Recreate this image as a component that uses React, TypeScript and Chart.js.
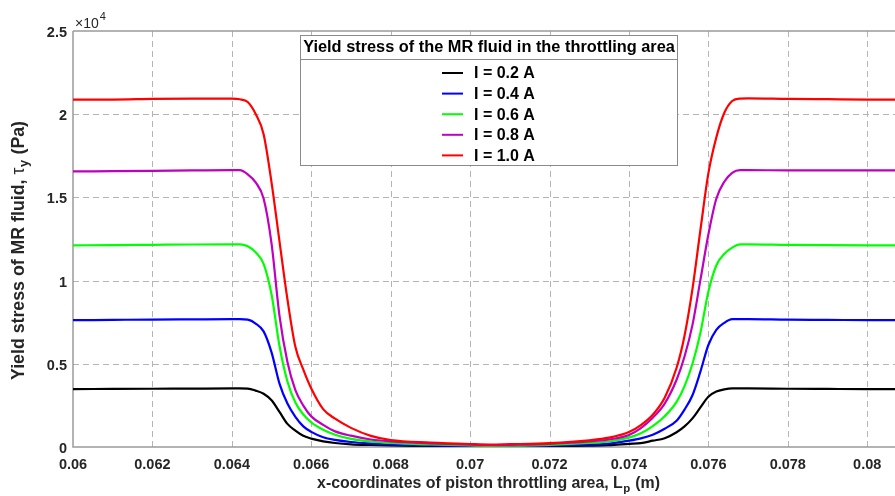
import React, { useEffect, useRef } from "react";
import { Chart, registerables } from "chart.js";

Chart.register(...registerables);

// ---- data ----
const xValues = [
  0.060, 0.061, 0.062, 0.063, 0.064, 0.0642, 0.0644, 0.0646, 0.0648, 0.065,
  0.0652, 0.0654, 0.0656, 0.0658, 0.066, 0.0663, 0.0666, 0.067, 0.0675, 0.068,
  0.069, 0.070, 0.0705, 0.071, 0.072, 0.073, 0.0735, 0.074, 0.0743, 0.0746,
  0.0749, 0.0752, 0.0754, 0.0756, 0.0758, 0.076, 0.0762, 0.0764, 0.0766, 0.0768,
  0.077, 0.078, 0.079, 0.080, 0.081,
];

const seriesLabels = ["I = 0.2 A", "I = 0.4 A", "I = 0.6 A", "I = 0.8 A", "I = 1.0 A"];

const current02 = [
  3480, 3490, 3500, 3510, 3520, 3520, 3510, 3390, 3200, 2810,
  2110, 1390, 980, 670, 500, 340, 240, 160, 120, 90,
  50, 30, 20, 25, 50, 80, 110, 190, 230, 380,
  530, 890, 1240, 1720, 2380, 3020, 3330, 3460, 3520, 3520,
  3520, 3500, 3490, 3480, 3480,
];
const current04 = [
  7620, 7640, 7660, 7670, 7680, 7680, 7650, 7420, 6950, 5690,
  3810, 2610, 1810, 1240, 910, 590, 430, 300, 210, 150,
  90, 50, 40, 50, 80, 150, 210, 380, 520, 740,
  1100, 1580, 2250, 3110, 4530, 6130, 7040, 7460, 7680, 7680,
  7680, 7650, 7640, 7620, 7620,
];
const current06 = [
  12120, 12130, 12150, 12170, 12180, 12180, 12060, 11700, 11010, 9160,
  6070, 3940, 2670, 1950, 1480, 1040, 740, 490, 330, 240,
  150, 90, 70, 80, 130, 240, 330, 560, 820, 1250,
  1850, 2710, 3660, 5000, 6870, 9330, 10910, 11600, 11980, 12180,
  12180, 12150, 12130, 12120, 12120,
];
const current08 = [
  16560, 16580, 16600, 16620, 16640, 16640, 16390, 15900, 14930, 12220,
  7880, 5110, 3420, 2490, 1840, 1330, 940, 680, 450, 340,
  220, 140, 110, 130, 190, 330, 450, 720, 1140, 1760,
  2610, 4040, 5440, 7340, 10040, 12770, 14920, 15940, 16480, 16640,
  16640, 16620, 16620, 16620, 16620,
];
const current10 = [
  20880, 20880, 20920, 20940, 20940, 20900, 20730, 20010, 18800, 15890,
  12360, 8880, 6020, 4650, 3520, 2280, 1700, 1150, 670, 420,
  270, 180, 150, 170, 230, 400, 560, 900, 1320, 1940,
  2960, 4760, 6690, 9500, 13040, 16440, 18600, 20070, 20790, 20940,
  20950, 20920, 20900, 20880, 20880,
];

const seriesValues = [current02, current04, current06, current08, current10];
const seriesColors = ["#000000", "#0000ff", "#00ff00", "#bf00bf", "#ff0000"];

const xMin = 0.06;
const xMax = 0.0807;
const xStep = 0.002;
const yMin = 0;
const yMax = 25000;
const yStep = 5000;
const yExponent = 4;

const legendTitle = "Yield stress of the MR fluid in the throttling area";
const xTitleMain = "x-coordinates of piston throttling area, L";
const xTitleSub = "p";
const xTitleEnd = " (m)";
const yTitleMain = "Yield stress of MR fluid, ";
const yTitleSym = "\u03C4";
const yTitleSub = "y";
const yTitleEnd = " (Pa)";

const FONT = "'Liberation Sans', Arial, sans-serif";
const TEXT = "#262626";

function fitSize(ctx: CanvasRenderingContext2D, text: string, target: number, weight = "bold") {
  ctx.font = `${weight} 100px ${FONT}`;
  const w = ctx.measureText(text).width;
  return (target / w) * 100;
}

const decorPlugin = {
  id: "decor",
  beforeDatasetsDraw(chart: any) {
    const { ctx, chartArea } = chart;
    const xs = chart.scales.x;
    const ys = chart.scales.y;
    ctx.save();
    ctx.strokeStyle = "#b4b4b4";
    ctx.lineWidth = 1;
    ctx.setLineDash([6, 4]);
    xs.ticks.forEach((t: any) => {
      const px = Math.round(xs.getPixelForValue(t.value)) + 0.5;
      if (px <= chartArea.left + 2) return;
      ctx.beginPath();
      ctx.moveTo(px, chartArea.top);
      ctx.lineTo(px, chartArea.bottom);
      ctx.stroke();
    });
    ys.ticks.forEach((t: any) => {
      const py = Math.round(ys.getPixelForValue(t.value)) + 0.5;
      if (py >= chartArea.bottom - 2 || py <= chartArea.top + 2) return;
      ctx.beginPath();
      ctx.moveTo(chartArea.left, py);
      ctx.lineTo(chartArea.right, py);
      ctx.stroke();
    });
    ctx.setLineDash([]);
    ctx.strokeStyle = "#9a9a9a";
    ctx.lineWidth = 1.5;
    ctx.beginPath();
    ctx.moveTo(chartArea.left, chartArea.top);
    ctx.lineTo(chartArea.right, chartArea.top);
    ctx.moveTo(chartArea.left, chartArea.top);
    ctx.lineTo(chartArea.left, chartArea.bottom);
    ctx.lineTo(chartArea.right, chartArea.bottom);
    ctx.stroke();
    ctx.restore();
  },
  afterDatasetsDraw(chart: any) {
    const { ctx, chartArea } = chart;
    ctx.save();
    // legend box
    const bx = 300.5, by = 35.5, bw = 377, bh = 130;
    ctx.fillStyle = "#ffffff";
    ctx.fillRect(bx, by, bw, bh);
    ctx.strokeStyle = "#8a8a8a";
    ctx.lineWidth = 1;
    ctx.strokeRect(bx, by, bw, bh);
    ctx.beginPath();
    ctx.moveTo(bx, 59.5);
    ctx.lineTo(bx + bw, 59.5);
    ctx.stroke();
    const ts = fitSize(ctx, legendTitle, 372);
    ctx.font = `bold ${ts}px ${FONT}`;
    ctx.fillStyle = "#000000";
    ctx.textAlign = "center";
    ctx.textBaseline = "middle";
    ctx.fillText(legendTitle, bx + bw / 2, 47.5);
    ctx.textAlign = "left";
    ctx.font = `bold 16px ${FONT}`;
    seriesLabels.forEach((lab, i) => {
      const yy = 73 + i * 20.6;
      ctx.strokeStyle = seriesColors[i];
      ctx.lineWidth = 2;
      ctx.beginPath();
      ctx.moveTo(442, yy);
      ctx.lineTo(463, yy);
      ctx.stroke();
      ctx.fillStyle = "#000000";
      ctx.fillText(lab, 474, yy + 1);
    });

    // exponent label
    ctx.fillStyle = TEXT;
    ctx.textAlign = "left";
    ctx.textBaseline = "alphabetic";
    ctx.font = `14px ${FONT}`;
    ctx.fillText("\u00D710", chartArea.left + 2, 27.5);
    const w10 = ctx.measureText("\u00D710").width;
    ctx.font = `11px ${FONT}`;
    ctx.fillText(String(yExponent), chartArea.left + 2 + w10 + 1, 20);

    // x title
    const xs = fitSize(ctx, xTitleMain + xTitleSub + xTitleEnd, 345);
    const subS = xs * 0.72;
    ctx.font = `bold ${xs}px ${FONT}`;
    const w1 = ctx.measureText(xTitleMain).width;
    const w3 = ctx.measureText(xTitleEnd).width;
    ctx.font = `bold ${subS}px ${FONT}`;
    const w2 = ctx.measureText(xTitleSub).width;
    const x0 = 488 - (w1 + w2 + w3) / 2;
    const yb = 488;
    ctx.font = `bold ${xs}px ${FONT}`;
    ctx.fillText(xTitleMain, x0, yb);
    ctx.font = `bold ${subS}px ${FONT}`;
    ctx.fillText(xTitleSub, x0 + w1 + 0.5, yb + 4);
    ctx.font = `bold ${xs}px ${FONT}`;
    ctx.fillText(xTitleEnd, x0 + w1 + w2 + 1, yb);

    // y title
    const ysz = fitSize(ctx, yTitleMain + yTitleSym + yTitleSub + yTitleEnd, 262);
    const ysub = ysz * 0.72;
    ctx.translate(24, 251);
    ctx.rotate(-Math.PI / 2);
    ctx.font = `bold ${ysz}px ${FONT}`;
    const a1 = ctx.measureText(yTitleMain).width;
    ctx.font = `${ysz}px ${FONT}`;
    const a2 = ctx.measureText(yTitleSym).width;
    ctx.font = `bold ${ysub}px ${FONT}`;
    const a3 = ctx.measureText(yTitleSub).width;
    ctx.font = `bold ${ysz}px ${FONT}`;
    const a4 = ctx.measureText(yTitleEnd).width;
    let s = -(a1 + a2 + a3 + a4) / 2;
    ctx.fillText(yTitleMain, s, 0);
    s += a1;
    ctx.font = `${ysz}px ${FONT}`;
    ctx.fillText(yTitleSym, s, 0);
    s += a2;
    ctx.font = `bold ${ysub}px ${FONT}`;
    ctx.fillText(yTitleSub, s + 0.5, 4);
    s += a3 + 1;
    ctx.font = `bold ${ysz}px ${FONT}`;
    ctx.fillText(yTitleEnd, s, 0);
    ctx.restore();
  },
};

export default function App() {
  const ref = useRef<HTMLCanvasElement>(null);
  useEffect(() => {
    document.body.style.margin = "0";
    const canvas = ref.current!;
    const chart = new Chart(canvas, {
      type: "line",
      data: {
        datasets: seriesValues.map((vals, i) => ({
          label: seriesLabels[i],
          data: xValues.map((x, j) => ({ x, y: vals[j] })),
          borderColor: seriesColors[i],
          backgroundColor: seriesColors[i],
          borderWidth: 2.2,
          pointRadius: 0,
          cubicInterpolationMode: "monotone" as const,
          fill: false,
          order: 5 - i,
        })),
      },
      options: {
        animation: false,
        responsive: false,
        devicePixelRatio: 1,
        layout: { padding: { top: 31, left: 0, right: 0, bottom: 0 } },
        plugins: {
          legend: { display: false },
          tooltip: { enabled: false },
          title: { display: false },
        },
        scales: {
          x: {
            type: "linear",
            min: xMin,
            max: xMax,
            grid: { display: false, drawTicks: false },
            border: { display: false },
            ticks: {
              stepSize: xStep,
              includeBounds: false,
              maxRotation: 0,
              autoSkip: false,
              padding: 9,
              color: TEXT,
              font: { family: FONT, size: 14.5, weight: "bold" },
              callback: (v: any) => String(Number(Number(v).toFixed(4))),
            },
            afterFit: (scale: any) => {
              scale.height = 49;
            },
          },
          y: {
            type: "linear",
            min: yMin,
            max: yMax,
            grid: { display: false, drawTicks: false },
            border: { display: false },
            ticks: {
              stepSize: yStep,
              padding: 6,
              labelOffset: 2,
              color: TEXT,
              font: { family: FONT, size: 14.5, weight: "bold" },
              callback: (v: any) => String(Number(v) / Math.pow(10, yExponent)),
            },
            afterFit: (scale: any) => {
              scale.width = 73;
            },
          },
        },
      },
      plugins: [decorPlugin],
    });
    return () => chart.destroy();
  }, []);
  return (
    <div style={{ position: "absolute", left: 0, top: 0, width: 895, height: 496, background: "#fff" }}>
      <canvas ref={ref} width={895} height={496} style={{ display: "block" }} />
    </div>
  );
}
